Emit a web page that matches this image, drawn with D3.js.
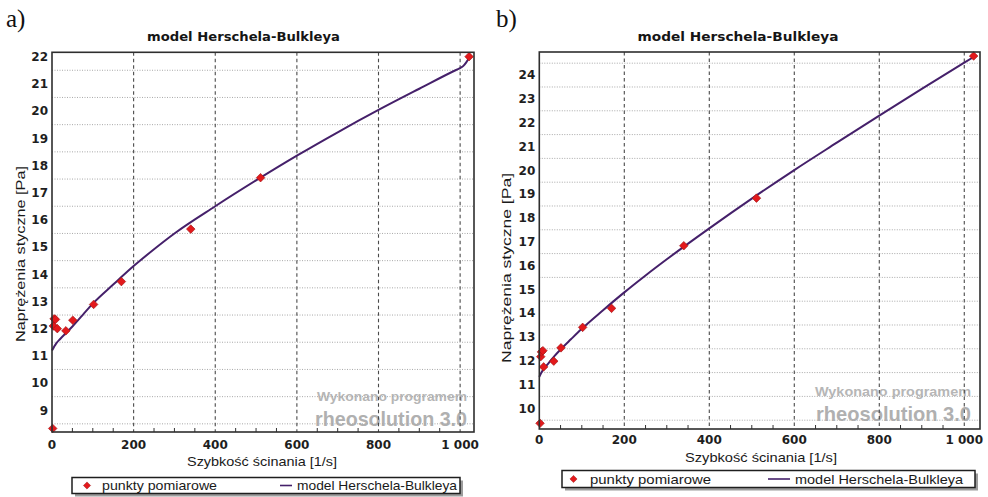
<!DOCTYPE html>
<html><head><meta charset="utf-8">
<script src="https://cdn.jsdelivr.net/npm/d3@7"></script>
<style>body{margin:0;background:#fff} svg{display:block}</style>
</head><body>
<svg id="chart" width="988" height="497"></svg>
<script>
// ---------- data ----------
const xTickValues = [0, 200, 400, 600, 800, 1000];
const xTickLabels = ["0", "200", "400", "600", "800", "1 000"];
const xMinorTickValues = [50,100,150,250,300,350,450,500,550,650,700,750,850,900,950];

const chartTitle = "model Herschela-Bulkleya";
const xAxisTitle = "Szybkość ścinania [1/s]";
const yAxisTitle = "Naprężenia styczne [Pa]";
const legendPoints = "punkty pomiarowe";
const legendModel = "model Herschela-Bulkleya";
const watermark1 = "Wykonano programem";
const watermark2 = "rheosolution 3.0";

// panel a
const aYTicks = [9,10,11,12,13,14,15,16,17,18,19,20,21,22];
const aPointX = [1.7, 3.4, 5.1, 8.5, 13, 34, 51, 102, 170, 340, 511, 1022];
const aPointY = [8.33, 12.1, 12.36, 12.34, 12.0, 11.92, 12.31, 12.89, 13.73, 15.66, 17.55, 22.0];
const aModelX = [0, 5, 10, 20, 35, 50, 75, 100, 150, 200, 250, 300, 400, 500, 600, 700, 800, 900, 990, 1000, 1008, 1015, 1022];
const aModelY = [11.2, 11.33, 11.45, 11.62, 11.85, 12.08, 12.5, 12.92, 13.62, 14.3, 14.92, 15.5, 16.5, 17.45, 18.36, 19.22, 20.04, 20.82, 21.51, 21.58, 21.66, 21.79, 21.95];

// panel b
const bYTicks = [10,11,12,13,14,15,16,17,18,19,20,21,22,23,24];
const bPointX = [1.7, 3.4, 5.1, 8.5, 10.2, 34, 51, 102, 170, 340, 511, 1022];
const bPointY = [9.37, 12.17, 12.37, 12.42, 11.74, 11.98, 12.54, 13.4, 14.2, 16.83, 18.83, 24.8];
const bModelX = [0, 5, 10, 20, 35, 50, 75, 100, 150, 200, 250, 300, 400, 500, 600, 700, 800, 900, 1000, 1022];
const bModelY = [11.32, 11.5, 11.63, 11.86, 12.18, 12.47, 12.91, 13.34, 14.12, 14.87, 15.58, 16.26, 17.56, 18.81, 20.01, 21.16, 22.3, 23.42, 24.52, 24.76];

// ---------- layout ----------
const panels = [
  { tag: "a)", tagX: 6, tagY: 27,
    left: 52, right: 474, top: 52.3, bottom: 432, xMax: 1034, yMin: 8.2, yMax: 22.16,
    titleX: 243.5, titleY: 41, titleLen: 193,
    xLabelY: 448.5, xTitleX: 262, xTitleY: 466, xTitleLen: 150,
    yTitleX: 20, yTitleY: 254, yTitleLen: 176,
    legend: { x: 72, y: 477.5, w: 388, h: 16, dX: 87, txt1X: 102, txt1Len: 115, lineX1: 280, lineX2: 292, txt2X: 297, txt2Len: 160 },
    wm: { right: 467, y1: 401, len1: 150, y2: 426, len2: 152 },
    yTicks: aYTicks, px: aPointX, py: aPointY, mx: aModelX, my: aModelY },
  { tag: "b)", tagX: 496, tagY: 27,
    left: 539.3, right: 980, top: 52, bottom: 429, xMax: 1037, yMin: 9.13, yMax: 24.97,
    titleX: 738, titleY: 41, titleLen: 201,
    xLabelY: 444, xTitleX: 761, xTitleY: 462, xTitleLen: 152,
    yTitleX: 506.5, yTitleY: 268, yTitleLen: 190,
    legend: { x: 562, y: 470.5, w: 413, h: 17, dX: 573.5, txt1X: 590, txt1Len: 121, lineX1: 768, lineX2: 790, txt2X: 795, txt2Len: 168 },
    wm: { right: 971, y1: 396, len1: 156, y2: 421, len2: 155 },
    yTicks: bYTicks, px: bPointX, py: bPointY, mx: bModelX, my: bModelY }
];

const svg = d3.select("#chart");
const SANS = "'Liberation Sans', Arial, sans-serif";
const WIDE = "'DejaVu Sans', Verdana, sans-serif";
const diamond = r => `M0,${-r}L${r},0L0,${r}L${-r},0Z`;

function fitText(sel, len) {
  sel.attr("textLength", len).attr("lengthAdjust", "spacingAndGlyphs");
  return sel;
}

panels.forEach(p => {
  const g = svg.append("g");
  const x = d3.scaleLinear().domain([0, p.xMax]).range([p.left, p.right]);
  const y = d3.scaleLinear().domain([p.yMin, p.yMax]).range([p.bottom, p.top]);

  // panel tag
  g.append("text").attr("x", p.tagX).attr("y", p.tagY)
    .attr("font-family", "'Liberation Serif', 'Times New Roman', serif")
    .attr("font-size", 25).attr("fill", "#111").text(p.tag);

  // title
  fitText(g.append("text").attr("x", p.titleX).attr("y", p.titleY)
    .attr("text-anchor", "middle").attr("font-family", WIDE).attr("font-weight", "bold")
    .attr("font-size", 12.5).attr("fill", "#151515").text(chartTitle), p.titleLen);

  // plot background
  g.append("rect").attr("x", p.left).attr("y", p.top)
    .attr("width", p.right - p.left).attr("height", p.bottom - p.top).attr("fill", "#fff");

  // watermark (under grid)
  fitText(g.append("text").attr("x", p.wm.right).attr("y", p.wm.y1).attr("text-anchor", "end")
    .attr("font-family", SANS).attr("font-weight", "bold").attr("font-size", 13.5)
    .attr("fill", "#b6b6b6").text(watermark1), p.wm.len1);
  fitText(g.append("text").attr("x", p.wm.right).attr("y", p.wm.y2).attr("text-anchor", "end")
    .attr("font-family", SANS).attr("font-weight", "bold").attr("font-size", 21)
    .attr("fill", "#b0b0b0").text(watermark2), p.wm.len2);

  // horizontal dotted grid (half-way between labelled values)
  const hGrid = [];
  p.yTicks.forEach(t => { [t - 0.5, t + 0.5].forEach(v => { if (v > p.yMin && v < p.yMax && !hGrid.includes(v)) hGrid.push(v); }); });
  g.selectAll(null).data(hGrid).join("line")
    .attr("x1", p.left).attr("x2", p.right)
    .attr("y1", d => y(d)).attr("y2", d => y(d))
    .attr("stroke", "#a8a8a8").attr("stroke-width", 1).attr("stroke-dasharray", "1,1.5");

  // vertical dashed grid
  g.selectAll(null).data(xTickValues.filter(v => v > 0)).join("line")
    .attr("x1", d => x(d)).attr("x2", d => x(d))
    .attr("y1", p.top).attr("y2", p.bottom)
    .attr("stroke", "#4a4a4a").attr("stroke-width", 1.1).attr("stroke-dasharray", "3.5,3");

  // minor ticks (bottom, inward)
  g.selectAll(null).data(xMinorTickValues).join("line")
    .attr("x1", d => x(d)).attr("x2", d => x(d))
    .attr("y1", p.bottom).attr("y2", p.bottom - 4)
    .attr("stroke", "#333").attr("stroke-width", 1);

  // model curve
  const line = d3.line().x(d => x(d[0])).y(d => y(d[1])).curve(d3.curveMonotoneX);
  g.append("path").datum(p.mx.map((v, i) => [v, p.my[i]]))
    .attr("d", line).attr("fill", "none")
    .attr("stroke", "#45206a").attr("stroke-width", 2);

  // measurement points
  g.selectAll(null).data(p.px.map((v, i) => [v, p.py[i]])).join("path")
    .attr("transform", d => `translate(${x(d[0])},${y(d[1])})`)
    .attr("d", diamond(4.3))
    .attr("fill", "#e3191c").attr("stroke", "#9a1414").attr("stroke-width", 0.6);

  // frame
  g.append("rect").attr("x", p.left).attr("y", p.top)
    .attr("width", p.right - p.left).attr("height", p.bottom - p.top)
    .attr("fill", "none").attr("stroke", "#2e2e2e").attr("stroke-width", 1.6);

  // y tick labels
  g.selectAll(null).data(p.yTicks).join("text")
    .attr("x", p.left - 4).attr("y", d => y(d)).attr("dy", "0.36em")
    .attr("text-anchor", "end").attr("font-family", WIDE).attr("font-weight", "bold")
    .attr("font-size", 12).attr("fill", "#1e1e1e").text(d => d);

  // x tick labels
  g.selectAll(null).data(xTickValues).join("text")
    .attr("x", d => x(d)).attr("y", p.xLabelY)
    .attr("text-anchor", "middle").attr("font-family", WIDE).attr("font-weight", "bold")
    .attr("font-size", 12).attr("fill", "#1e1e1e").text((d, i) => xTickLabels[i]);

  // axis titles
  fitText(g.append("text").attr("x", p.xTitleX).attr("y", p.xTitleY)
    .attr("text-anchor", "middle").attr("font-family", SANS)
    .attr("font-size", 13).attr("fill", "#1a1a1a").text(xAxisTitle), p.xTitleLen);
  fitText(g.append("text").attr("transform", `translate(${p.yTitleX},${p.yTitleY}) rotate(-90)`)
    .attr("text-anchor", "middle").attr("dy", "0.35em").attr("font-family", SANS)
    .attr("font-size", 13.5).attr("fill", "#1a1a1a").text(yAxisTitle), p.yTitleLen);

  // legend
  const L = p.legend;
  const cy = L.y + L.h / 2;
  g.append("rect").attr("x", L.x + 3).attr("y", L.y + 3).attr("width", L.w).attr("height", L.h).attr("fill", "#9c9c9c");
  g.append("rect").attr("x", L.x).attr("y", L.y).attr("width", L.w).attr("height", L.h)
    .attr("fill", "#fff").attr("stroke", "#1e1e1e").attr("stroke-width", 1.5);
  g.append("path").attr("transform", `translate(${L.dX},${cy})`).attr("d", diamond(3.6))
    .attr("fill", "#e3191c").attr("stroke", "#9a1414").attr("stroke-width", 0.5);
  fitText(g.append("text").attr("x", L.txt1X).attr("y", cy).attr("dy", "0.36em")
    .attr("font-family", SANS).attr("font-size", 13.5).attr("fill", "#1a1a1a").text(legendPoints), L.txt1Len);
  g.append("line").attr("x1", L.lineX1).attr("x2", L.lineX2).attr("y1", cy).attr("y2", cy)
    .attr("stroke", "#45206a").attr("stroke-width", 1.6);
  fitText(g.append("text").attr("x", L.txt2X).attr("y", cy).attr("dy", "0.36em")
    .attr("font-family", SANS).attr("font-size", 13.5).attr("fill", "#1a1a1a").text(legendModel), L.txt2Len);
});
</script>
</body></html>
